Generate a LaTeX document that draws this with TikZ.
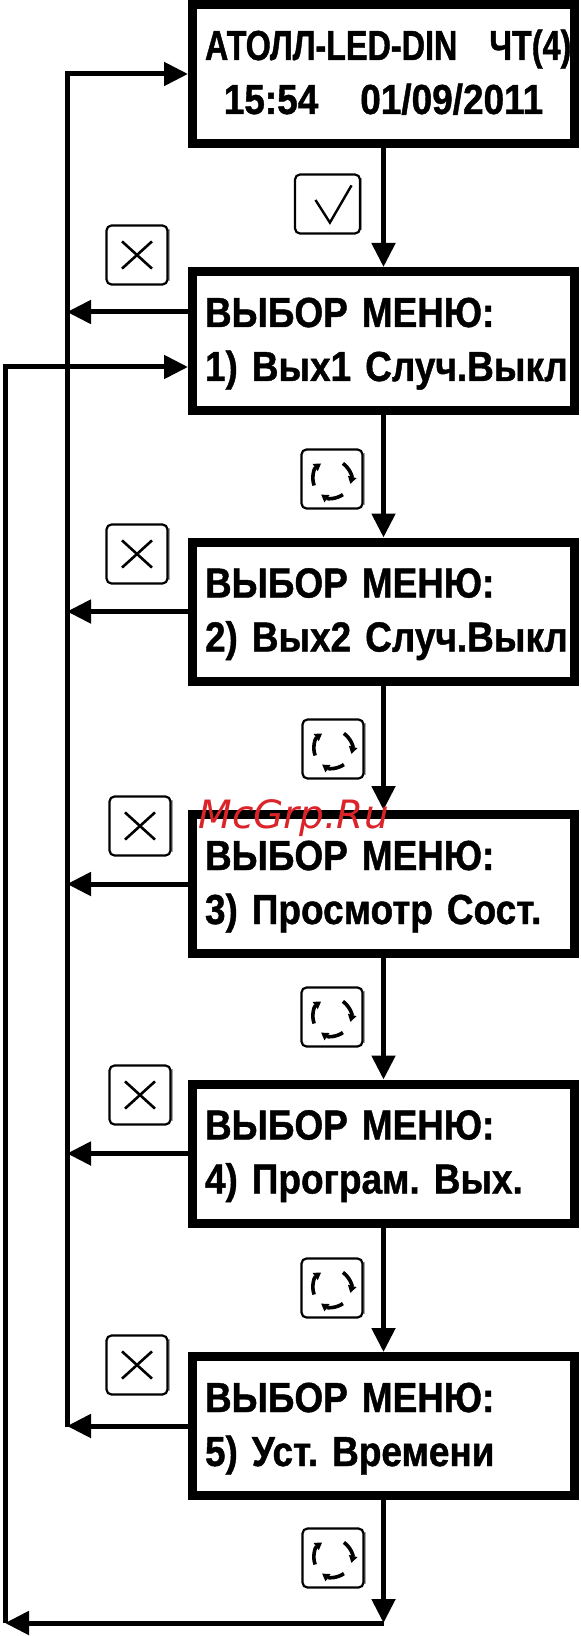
\documentclass[tikz,border=0pt]{standalone}
\usepackage{fontspec}
\setmainfont{Liberation Sans}
\newfontfamily\lcd{Liberation Sans}[FakeStretch=0.88, BoldFeatures={FakeBold=1}]
\newfontfamily\lcdn{Liberation Sans}[FakeStretch=0.77, BoldFeatures={FakeBold=1}]
\newfontfamily\wmfont{DejaVu Sans}
\usetikzlibrary{arrows.meta}
\definecolor{wmred}{RGB}{218,36,42}
\frenchspacing
\tikzset{
  iconframe/.style={draw, line width=1.1pt, rounded corners=2.5pt, minimum width=30.5pt, minimum height=29.5pt, inner sep=0pt},
  iconshadow/.style={draw=black!35, line width=1pt},
  glyph/.style={line width=1.2pt},
  rotglyph/.style={line width=1.8pt, -{Triangle[length=3.6pt,width=4.2pt]}},
  okicon/.pic={
    \draw[iconshadow] (16.8pt,-13pt) -- (16.8pt,13pt);
    \node[iconframe, minimum width=32.5pt] (-f) at (0,0) {};
    \draw[glyph] (-6pt,2pt) -- (1.2pt,-9.3pt) -- (12pt,9.3pt);
  },
  xicon/.pic={
    \draw[iconshadow] (16pt,-13pt) -- (16pt,13pt);
    \node[iconframe] (-f) at (0,0) {};
    \draw[glyph, line width=1.3pt] (-7.5pt,-6.8pt) -- (7.5pt,6.8pt) (-7.5pt,6.8pt) -- (7.5pt,-6.8pt);
  },
  roticon/.pic={
    \draw[iconshadow] (16pt,-13pt) -- (16pt,13pt);
    \node[iconframe] (-f) at (0,0) {};
    \draw[rotglyph] (200:9.5pt) arc[start angle=200, end angle=125, radius=9.5pt];
    \draw[rotglyph] (55:9.5pt) arc[start angle=55, end angle=-15, radius=9.5pt];
    \draw[rotglyph] (-55:9.5pt) arc[start angle=-55, end angle=-125, radius=9.5pt];
  }
}
\begin{document}
\begin{tikzpicture}[x=0.5pt,y=-0.5pt,
  menubox/.style={draw, line width=4.5pt, minimum width=191pt, minimum height=69.5pt,
    inner xsep=6.25pt, inner ysep=0pt, text width=178.5pt, align=left,
    text height=15pt, text depth=29pt,
    font=\lcd\bfseries\fontsize{21pt}{27pt}\selectfont},
  topbox/.style={menubox, align=center},
  conn/.style={line width=2.5pt},
  arr/.style={conn, -{Triangle[length=12pt,width=11.5pt]}},
  wmark/.style={text=wmred, inner sep=0pt, anchor=base west,
    font=\wmfont\itshape\fontsize{19.5pt}{24pt}\selectfont}
]
\useasboundingbox (0,0) rectangle (580,1636);

% boxes
\node[topbox] (top) at (383.5,74) {\mbox{\lcdn АТОЛЛ-LED-DIN\hspace{16pt}ЧТ(4)}\\\mbox{15:54\hspace{21pt}01/09/2011}};
\node[menubox] (b1) at (383.5,341) {\mbox{ВЫБОР МЕНЮ:}\\\mbox{1) Вых1 Случ.Выкл}};
\node[menubox] (b2) at (383.5,611.5) {\mbox{ВЫБОР МЕНЮ:}\\\mbox{2) Вых2 Случ.Выкл}};
\node[menubox] (b3) at (383.5,884) {\mbox{ВЫБОР МЕНЮ:}\\\mbox{3) Просмотр Сост.}};
\node[menubox] (b4) at (383.5,1153.5) {\mbox{ВЫБОР МЕНЮ:}\\\mbox{4) Програм. Вых.}};
\node[menubox] (b5) at (383.5,1426) {\mbox{ВЫБОР МЕНЮ:}\\\mbox{5) Уст. Времени}};

% icons
\pic (ok) at (327.5,204) {okicon};
\pic (x1) at (137,255) {xicon};
\pic (x2) at (137,554) {xicon};
\pic (x3) at (140,826) {xicon};
\pic (x4) at (140,1095) {xicon};
\pic (x5) at (137,1365) {xicon};
\pic (r1) at (332,479) {roticon};
\pic (r2) at (333,749) {roticon};
\pic (r3) at (332,1017) {roticon};
\pic (r4) at (332,1288) {roticon};
\pic (r5) at (333,1558) {roticon};

% helper coordinates
\coordinate (L) at (67,1427);
\coordinate (R) at (5,1623);

% downward chain
\draw[arr] (top.south) -- (b1.north);
\draw[arr] (b1.south) -- (b2.north);
\draw[arr] (b2.south) -- (b3.north);
\draw[arr] (b3.south) -- (b4.north);
\draw[arr] (b4.south) -- (b5.north);

% return to top box
\draw[arr] (L) |- (top.west);
\draw[arr] ([yshift=14.5pt]b1.west) -- ([yshift=14.5pt]b1.west -| L);
\draw[arr] (b2.west) -- (b2.west -| L);
\draw[arr] (b3.west) -- (b3.west -| L);
\draw[arr] (b4.west) -- (b4.west -| L);
\draw[arr] (b5.west) -- (b5.west -| L);

% outer loop back to first menu
\draw[arr] (b5.south) -- (b5.south |- R);
\draw[arr] (b5.south |- R) -- (R);
\draw[arr] (R) |- ([yshift=-13pt]b1.west);

% watermark
\node[wmark] (wm) at (198,828) {McGrp.Ru};
\end{tikzpicture}
\end{document}
